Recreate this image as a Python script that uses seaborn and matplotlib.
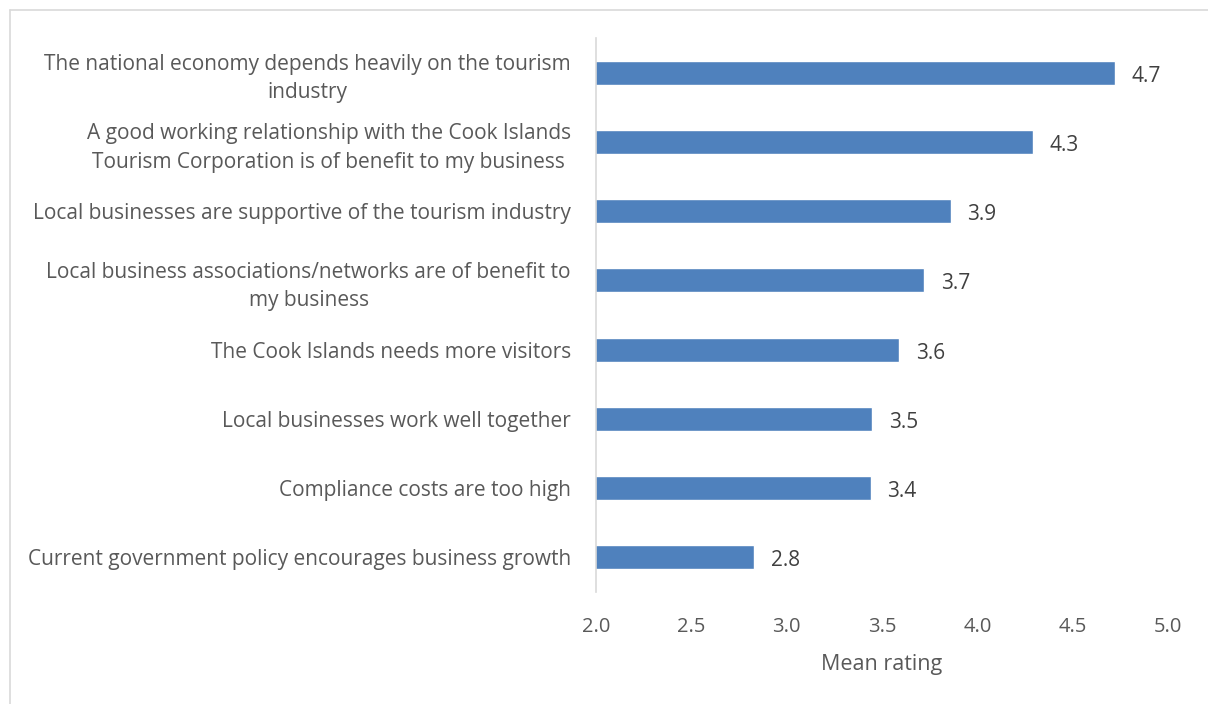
import matplotlib
matplotlib.use("Agg")
import matplotlib.pyplot as plt
from matplotlib.lines import Line2D
import seaborn as sns
import pandas as pd

# Survey statements (top to bottom) and their mean agreement ratings
statements = [
    "The national economy depends heavily on the tourism\nindustry",
    "A good working relationship with the Cook Islands\nTourism Corporation is of benefit to my business",
    "Local businesses are supportive of the tourism industry",
    "Local business associations/networks are of benefit to\nmy business",
    "The Cook Islands needs more visitors",
    "Local businesses work well together",
    "Compliance costs are too high",
    "Current government policy encourages business growth",
]
mean_rating = [4.72, 4.29, 3.86, 3.72, 3.59, 3.45, 3.44, 2.83]
x_ticks = [2.0, 2.5, 3.0, 3.5, 4.0, 4.5, 5.0]

df = pd.DataFrame({"statement": statements, "rating": mean_rating})

sns.set_theme(style="white")
plt.rcParams["font.family"] = ["Open Sans", "DejaVu Sans"]

fig = plt.figure(figsize=(12.08, 7.04), dpi=100)
ax = fig.add_axes([596 / 1208, 1 - 592 / 704, 572 / 1208, 554 / 704])

bar_color = "#4F81BD"
sns.barplot(data=df, y="statement", x="rating", orient="h", color=bar_color,
            saturation=1, width=0.35, ax=ax)

ax.set_xlim(2.0, 5.0)
ax.set_ylim(len(statements) - 0.5, -0.5)
ax.set_xticks(x_ticks)
ax.set_xticklabels([f"{t:.1f}" for t in x_ticks], fontsize=14.5, color="#595959")
ax.tick_params(axis="x", length=0, pad=18)
ax.tick_params(axis="y", length=0, pad=18)
for lbl in ax.get_yticklabels():
    lbl.set_fontsize(15)
    lbl.set_color("#595959")
    lbl.set_multialignment("center")
    lbl.set_linespacing(1.45)

ax.set_ylabel("")
ax.set_xlabel("Mean rating", fontsize=15.5, color="#595959", labelpad=12)

for side in ["top", "right", "bottom"]:
    ax.spines[side].set_visible(False)
ax.spines["left"].set_color("#D9D9D9")
ax.spines["left"].set_linewidth(1.2)

# Value labels at the end of each bar, nudged slightly below the bar centre
for container in ax.containers:
    texts = ax.bar_label(container, fmt="%.1f", padding=12, fontsize=15,
                         color="#404040")
    for t in texts:
        dx, dy = t.xyann
        t.xyann = (dx, dy - 2.5)

# Thin outer chart border
fig.add_artist(Line2D([9.5 / 1208, 1.0], [1 - 9.5 / 704, 1 - 9.5 / 704],
                      transform=fig.transFigure, color="#D9D9D9", lw=1.2))
fig.add_artist(Line2D([9.5 / 1208, 9.5 / 1208], [0.0, 1 - 9.5 / 704],
                      transform=fig.transFigure, color="#D9D9D9", lw=1.2))

fig.savefig("out.png", dpi=100, facecolor="white")
